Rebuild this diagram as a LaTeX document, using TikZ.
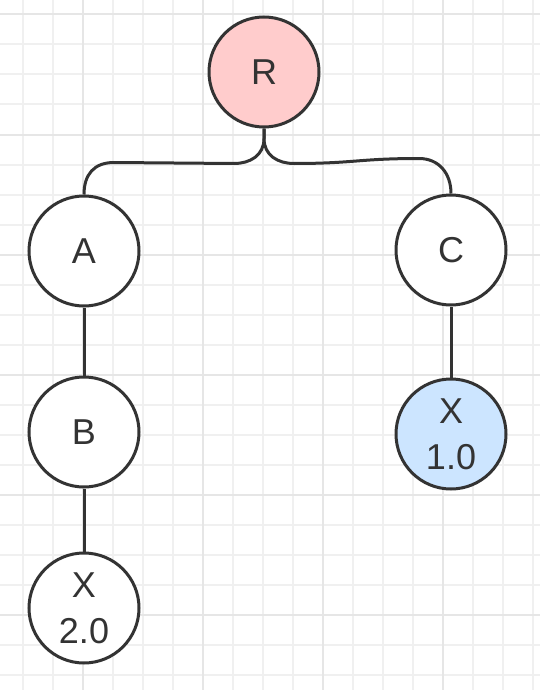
\documentclass[tikz,border=0pt]{standalone}
\usepackage{fontspec}
\setmainfont{Liberation Sans}
\usetikzlibrary{calc}
\definecolor{ink}{HTML}{333333}
\definecolor{gridminor}{HTML}{F0F0F0}
\definecolor{gridmajor}{HTML}{E6E6E6}
\definecolor{redfill}{HTML}{FFCCCC}
\definecolor{bluefill}{HTML}{CCE5FF}
\tikzset{
  treenode/.style={circle, draw=ink, line width=3pt, fill=white, minimum size=110pt, inner sep=0pt,
    text=ink, font=\fontsize{36}{46}\selectfont, align=center},
  edge/.style={draw=ink, line width=3pt},
  minorgrid/.style={draw=gridminor, line width=2pt},
  majorgrid/.style={draw=gridmajor, line width=2pt}
}
\begin{document}
\begin{tikzpicture}[x=1pt, y=-1pt]
\fill[white] (0,0) rectangle (540,690);
\useasboundingbox (0,0) rectangle (540,690);
\foreach \k in {0,...,17} { \draw[minorgrid] (23+30*\k,0) -- (23+30*\k,690); }
\foreach \k in {0,...,22} { \draw[minorgrid] (0,14.5+30*\k) -- (540,14.5+30*\k); }
\foreach \k in {0,...,3} { \draw[majorgrid] (83+120*\k,0) -- (83+120*\k,690); }
\foreach \k in {0,...,5} { \draw[majorgrid] (0,14.5+120*\k) -- (540,14.5+120*\k); }

\node[treenode, fill=redfill] (R) at (264,72) {R};
\node[treenode] (A) at (84,251) {A};
\node[treenode] (C) at (451,250) {C};
\node[treenode] (B) at (84,432) {B};
\node[treenode, fill=bluefill] (X1) at (451,434) {X\\1.0};
\node[treenode] (X2) at (84,608) {X\\2.0};

\draw[edge] (R.south) -- ++(0,10) .. controls +(0,17) and +(16,0) .. ++(-30,25)
  -- ($(A.north)+(30,-32)$) .. controls +(-20,0) and +(0,-20) .. (A.north);
\draw[edge] (R.south) -- ++(0,10) .. controls +(0,17) and +(-16,0) .. ++(30,25)
  .. controls +(60,0) and +(-60,0) .. ($(C.north)+(-32,-35)$)
  .. controls +(20,0) and +(0,-20) .. (C.north);
\draw[edge] (A) -- (B);
\draw[edge] (B) -- (X2);
\draw[edge] (C) -- (X1);
\end{tikzpicture}
\end{document}
